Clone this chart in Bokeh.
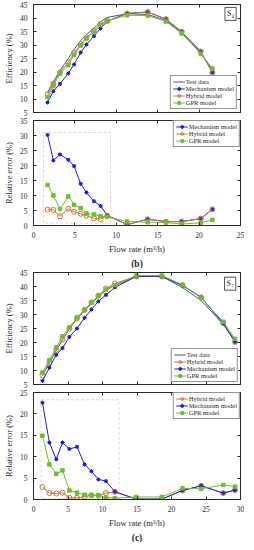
from bokeh.plotting import figure
from bokeh.layouts import column
from bokeh.models import (SingleIntervalTicker, LinearAxis, BoxAnnotation, Label, Title, Range1d,
                          CustomLabelingPolicy)
from bokeh.embed import file_html
from bokeh.resources import INLINE

# ---------------- data (b) ----------------
x_b = [1.7, 2.4, 3.2, 4.2, 4.9, 5.7, 6.4, 7.3, 8.1, 8.9, 11.3, 13.8, 16.0, 17.9, 20.2, 21.6]
test_b = [12.4, 16.4, 20.5, 25.0, 28.4, 31.6, 33.9, 36.2, 38.6, 40.2, 41.6, 41.3, 39.1, 34.5, 27.0, 20.9]
mech_b = [8.7, 12.9, 15.6, 19.5, 22.8, 27.2, 30.2, 33.3, 36.1, 38.8, 41.7, 42.2, 39.6, 34.9, 27.6, 19.8]
hyb_b = [11.8, 15.6, 19.9, 23.6, 27.1, 30.3, 32.7, 35.3, 37.8, 38.9, 41.7, 42.2, 39.6, 34.9, 27.6, 19.8]
gpr_b = [10.7, 14.8, 19.4, 22.6, 26.4, 29.8, 32.5, 34.8, 37.4, 39.0, 41.0, 40.9, 38.7, 34.3, 26.8, 21.3]
err_mech_b = [30.2, 21.7, 23.7, 21.9, 19.8, 13.9, 11.0, 8.1, 6.5, 3.4, 0.3, 2.1, 1.3, 1.3, 2.3, 5.4]
err_hyb_b = [5.3, 5.2, 3.1, 5.6, 4.6, 3.9, 3.3, 2.4, 2.1, 3.3, 0.3, 2.1, 1.3, 1.3, 2.3, 5.4]
err_gpr_b = [13.5, 10.0, 5.5, 9.7, 6.9, 5.8, 4.0, 3.7, 3.1, 2.9, 1.3, 1.1, 1.0, 0.5, 0.9, 1.9]

# ---------------- data (c) ----------------
x_c = [1.3, 2.3, 3.3, 4.2, 5.2, 6.3, 7.4, 8.4, 9.4, 10.5, 11.8, 14.9, 18.6, 21.6, 24.3, 27.5, 29.2]
test_c = [8.1, 12.7, 17.2, 20.8, 24.9, 28.5, 31.4, 34.0, 36.4, 38.7, 40.4, 43.6, 43.6, 39.6, 35.0, 26.5, 20.7]
mech_c = [6.3, 11.0, 15.6, 18.0, 22.0, 25.0, 28.8, 31.8, 34.7, 37.0, 39.7, 43.6, 43.6, 40.4, 36.1, 26.9, 20.2]
hyb_c = [8.3, 12.9, 17.4, 21.1, 25.0, 28.6, 31.6, 34.3, 36.7, 39.3, 41.1, 43.6, 43.6, 40.4, 36.1, 26.9, 20.2]
gpr_c = [9.3, 13.7, 18.2, 22.2, 25.4, 28.9, 31.7, 34.3, 36.7, 38.9, 40.5, 43.9, 43.9, 40.6, 35.9, 27.4, 21.3]
err_mech_c = [22.6, 13.3, 9.4, 13.3, 11.8, 12.3, 8.2, 6.6, 4.7, 4.3, 1.8, 0.1, 0.1, 2.1, 3.2, 1.5, 2.2]
err_hyb_c = [2.9, 1.5, 1.4, 1.6, 0.4, 0.4, 0.6, 1.0, 0.9, 1.5, 1.8, 0.1, 0.1, 2.1, 3.2, 1.5, 2.2]
err_gpr_c = [14.9, 8.2, 6.0, 6.8, 2.1, 1.6, 1.1, 1.0, 1.0, 0.5, 0.3, 0.6, 0.6, 2.6, 2.5, 3.4, 3.0]

FONT = "Liberation Serif"
INK = "#262626"
C_TEST = "#4050A8"
C_MECH = "#1C1CE0"
C_HYB = "#D0703A"
C_GPR = "#66C22A"
C_BOX = "#B9753F"

NO_LABELS_JS = "for (const i of indices) { indices.unset(i) } return indices"


def no_labels():
    return CustomLabelingPolicy(code=NO_LABELS_JS)


def make_fig(height, xr, yr, top, bottom, yint, ylabel, show_xlabels):
    p = figure(width=244, height=height, x_range=Range1d(*xr), y_range=Range1d(*yr),
               output_backend="svg", toolbar_location=None,
               min_border_left=22, min_border_right=4,
               min_border_top=top, min_border_bottom=bottom)
    p.grid.visible = False
    p.outline_line_color = INK
    p.xaxis.ticker = SingleIntervalTicker(interval=5)
    p.yaxis.ticker = SingleIntervalTicker(interval=yint)
    p.yaxis.axis_label = ylabel
    hidden = []
    if show_xlabels:
        p.xaxis.axis_label = "Flow rate (m³/h)"
    else:
        hidden.append(p.xaxis[0])
    # mirrored ticks (box on)
    r_ax = LinearAxis(ticker=SingleIntervalTicker(interval=yint))
    t_ax = LinearAxis(ticker=SingleIntervalTicker(interval=5))
    p.add_layout(r_ax, "right")
    p.add_layout(t_ax, "above")
    hidden += [r_ax, t_ax]
    for ax in p.axis:
        ax.major_tick_in = 3
        ax.major_tick_out = 0
        ax.minor_tick_line_color = None
        ax.axis_line_color = INK
        ax.major_tick_line_color = INK
        ax.major_label_text_font = FONT
        ax.major_label_text_color = INK
        ax.major_label_text_font_size = "7.5px"
        ax.major_label_standoff = 2
        ax.axis_label_text_font = FONT
        ax.axis_label_text_font_style = "normal"
        ax.axis_label_text_font_size = "8.5px"
        ax.axis_label_text_color = INK
        ax.axis_label_standoff = 3
    for ax in hidden:
        ax.major_label_policy = no_labels()
        ax.major_label_text_font_size = "0px"
        ax.major_label_standoff = 0
    return p


def style_legend(p, loc, margin):
    lg = p.legend[0]
    lg.location = loc
    lg.margin = margin
    lg.padding = 2
    lg.spacing = 0
    lg.label_text_font = FONT
    lg.label_text_font_size = "6.5px"
    lg.label_text_color = INK
    lg.label_height = 7
    lg.glyph_height = 7
    lg.glyph_width = 12
    lg.label_standoff = 1
    lg.border_line_color = INK
    lg.border_line_width = 0.8
    lg.background_fill_alpha = 1.0


def add_test(p, x, y):
    p.line(x, y, color=C_TEST, line_width=1, legend_label="Test data")


def add_mech(p, x, y):
    p.line(x, y, color=C_MECH, line_width=1, legend_label="Mechanism model")
    p.scatter(x, y, marker="asterisk", size=4, line_color=C_MECH, line_width=1,
              legend_label="Mechanism model")
    p.scatter(x, y, marker="circle", size=2.5, color=C_MECH, legend_label="Mechanism model")


def add_hyb(p, x, y):
    p.line(x, y, color=C_HYB, line_width=1, legend_label="Hybrid model")
    p.scatter(x, y, marker="circle", size=5, line_color=C_HYB, fill_color=None,
              line_width=1, legend_label="Hybrid model")


def add_gpr(p, x, y):
    p.line(x, y, color=C_GPR, line_width=1, legend_label="GPR model")
    p.scatter(x, y, marker="square", size=3.5, color=C_GPR, legend_label="GPR model")


def add_caption(p, txt):
    p.add_layout(Title(text=txt, align="center", text_font=FONT, text_font_size="9.5px",
                       text_font_style="bold", text_color=INK, standoff=0), "below")


def add_tag(p, x, y, txt):
    p.add_layout(Label(x=x, y=y, text=txt, text_align="center", text_baseline="middle",
                       text_font=FONT, text_font_size="8px", text_color=INK,
                       border_line_color=INK, border_line_width=0.8,
                       background_fill_color="white", padding=2))


# ---- panel (b) efficiency ----
p1 = make_fig(116, (0, 25), (5, 45), 2, 4, 5, "Efficiency (%)", False)
add_test(p1, x_b, test_b)
add_mech(p1, x_b, mech_b)
add_hyb(p1, x_b, hyb_b)
add_gpr(p1, x_b, gpr_b)
add_tag(p1, 23.8, 41.5, "S₄")
style_legend(p1, "bottom_right", 3)

# ---- panel (b) relative error ----
p2 = make_fig(152, (0, 25), (0, 35), 3, 38, 5, "Relative error (%)", True)
p2.add_layout(BoxAnnotation(left=1.2, right=9.3, bottom=0.8, top=31, fill_color=None,
                            line_color=C_BOX, line_dash="3 2", line_width=1))
add_mech(p2, x_b, err_mech_b)
add_hyb(p2, x_b, err_hyb_b)
add_gpr(p2, x_b, err_gpr_b)
add_caption(p2, "(b)")
style_legend(p2, "top_right", 0)

# ---- panel (c) efficiency ----
p3 = make_fig(120, (0, 30), (5, 45), 4, 3, 5, "Efficiency (%)", False)
add_test(p3, x_c, test_c)
add_hyb(p3, x_c, hyb_c)
add_mech(p3, x_c, mech_c)
add_gpr(p3, x_c, gpr_c)
add_tag(p3, 28.5, 41.0, "S₇")
style_legend(p3, "bottom_right", 2)

# ---- panel (c) relative error ----
p4 = make_fig(154, (0, 30), (0, 25), 3, 40, 5, "Relative error (%)", True)
p4.add_layout(BoxAnnotation(left=1.1, right=12.4, bottom=0.3, top=23.3, fill_color=None,
                            line_color=C_BOX, line_dash="3 2", line_width=1))
add_hyb(p4, x_c, err_hyb_c)
add_mech(p4, x_c, err_mech_c)
add_gpr(p4, x_c, err_gpr_c)
add_caption(p4, "(c)")
style_legend(p4, "top_right", 0)

layout = column(p1, p2, p3, p4, spacing=0)
open("out.html", "w").write(file_html(layout, INLINE))
